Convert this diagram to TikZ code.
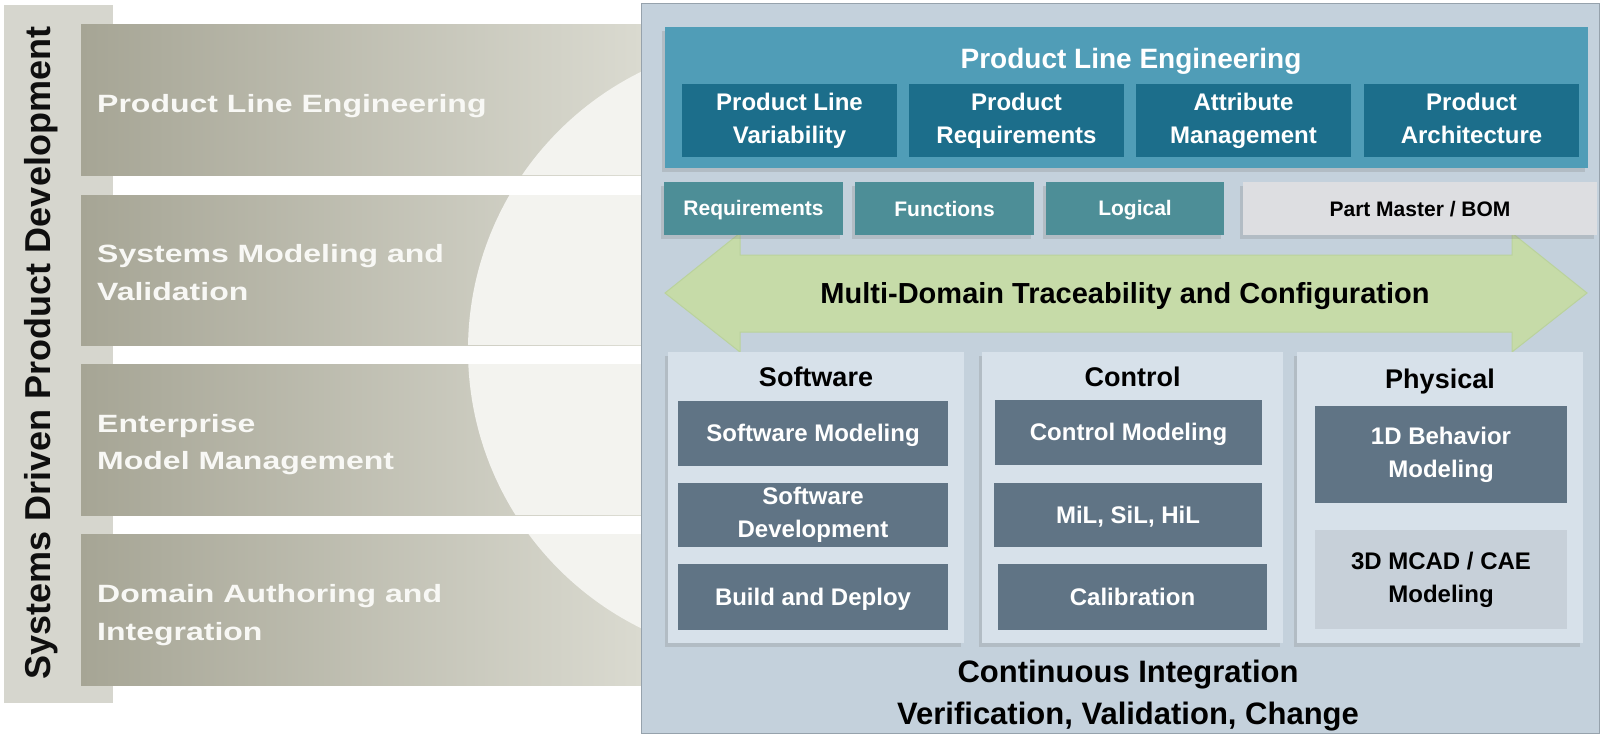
\documentclass[tikz,border=0pt]{standalone}
\usepackage{fontspec}
\setmainfont{Liberation Sans}
\usepackage{tikz}
\usetikzlibrary{shadows}

\definecolor{stripgray}{RGB}{214,214,206}
\definecolor{bandleft}{RGB}{166,165,149}
\definecolor{bandright}{RGB}{218,218,208}
\definecolor{circlefill}{RGB}{243,243,239}
\definecolor{panelfill}{RGB}{196,209,220}
\definecolor{panelline}{RGB}{150,162,172}
\definecolor{plefill}{RGB}{80,157,183}
\definecolor{pledark}{RGB}{28,110,139}
\definecolor{tealbox}{RGB}{77,142,151}
\definecolor{partfill}{RGB}{221,222,225}
\definecolor{arrowfill}{RGB}{198,219,168}
\definecolor{arrowline}{RGB}{186,210,156}
\definecolor{domainfill}{RGB}{215,225,234}
\definecolor{slatebox}{RGB}{96,116,133}
\definecolor{cadfill}{RGB}{199,208,217}

\newcommand\capstrut{\rule[-0.2em]{0pt}{1.116em}}
\newcommand\bandlines[1]{\scalebox{1.28}[1]{\begin{tabular}{@{}l@{}}#1\end{tabular}}}

\tikzset{
  boxshadow/.style={drop shadow={shadow xshift=-3pt,shadow yshift=-4pt,opacity=0.25}},
  centred/.style={execute at begin node=\capstrut, execute at end node=\capstrut},
  bandtext/.style={anchor=west, inner sep=0pt, text={rgb,255:red,248;green,248;blue,245},
    font=\bfseries\fontsize{25}{37.5}\selectfont},
  plesub/.style={fill=pledark, text=white, minimum width=215pt, minimum height=73pt, align=center,
    inner sep=0pt, centred, font=\bfseries\fontsize{24}{33}\selectfont},
  rowbox/.style={fill=tealbox, text=white, minimum height=53pt, inner sep=0pt, boxshadow, centred,
    font=\bfseries\fontsize{21}{25}\selectfont},
  domainbox/.style={fill=domainfill, minimum height=291pt, inner sep=0pt, boxshadow},
  domaintitle/.style={anchor=base, inner sep=0pt, font=\bfseries\fontsize{27}{32}\selectfont},
  slate/.style={fill=slatebox, text=white, align=center, inner sep=0pt, centred,
    font=\bfseries\fontsize{24}{33}\selectfont}
}

\begin{document}
\begin{tikzpicture}[x=1pt,y=1pt,yscale=-1,xscale=1]
\useasboundingbox (0,0) rectangle (1600,734);

%Shape: Rectangle [left strip]
\fill[stripgray] (4,5) rectangle (113,703);
%Shapes: Bands
\foreach \ya/\yb in {24/175,195/345,364/515,534/685}
  \fill[left color=bandleft, right color=bandright] (81,\ya) rectangle (641,\yb);
%Shape: Circle
\begin{scope}
  \clip (81,24) rectangle (641,175) (81,195) rectangle (641,345)
        (81,364) rectangle (641,515) (81,534) rectangle (641,685);
  \fill[circlefill] (778,350) circle (310);
\end{scope}

% Text Node
\node[rotate=90, anchor=base, inner sep=0pt, font=\bfseries\fontsize{36}{40}\selectfont, text={rgb,255:red,15;green,15;blue,15}]
  (sdpd) at (50,353) {Systems Driven Product Development};
% Text Node
\node[bandtext] (bple) at (97,104.5) {\bandlines{Product Line Engineering}};
\node[bandtext] (bsmv) at (97,274) {\bandlines{Systems Modeling and\\Validation}};
\node[bandtext] (bemm) at (97,443.5) {\bandlines{Enterprise\\Model Management}};
\node[bandtext] (bdai) at (97,614) {\bandlines{Domain Authoring and\\Integration}};

%Shape: Rectangle [right panel]
\draw[panelline, fill=panelfill] (641,3) rectangle (1599.5,733.5);

%Shape: Double Arrow
\filldraw[draw=arrowline, fill=arrowfill, line width=1pt]
  (665,293) -- (740,233) -- (740,255) -- (1512,255) -- (1512,233) -- (1587,293)
  -- (1512,352) -- (1512,332) -- (740,332) -- (740,352) -- cycle;
% Text Node
\node[anchor=base, inner sep=0pt, font=\bfseries\fontsize{29}{34}\selectfont]
  (mdt) at (1125,303) {Multi-Domain Traceability and Configuration};

%Shape: Rectangle [product line engineering]
\node[fill=plefill, minimum width=923pt, minimum height=141pt, inner sep=0pt, boxshadow] (ple) at (1126.5,97.5) {};
\node[anchor=base, inner sep=0pt, text=white, font=\bfseries\fontsize{28}{33}\selectfont]
  (pletitle) at (1131,68) {Product Line Engineering};
\node[plesub] (plv) at (789.5,120.5) {Product Line\\Variability};
\node[plesub] (preq) at (1016.5,120.5) {Product\\Requirements};
\node[plesub] (attm) at (1243.5,120.5) {Attribute\\Management};
\node[plesub] (parch) at (1471.5,120.5) {Product\\Architecture};

%Shapes: Row of views
\node[rowbox, minimum width=179pt] (req) at (753.5,208.5) {Requirements};
\node[rowbox, minimum width=179pt] (fun) at (944.5,208.5) {Functions};
\node[rowbox, minimum width=178pt] (log) at (1135,208.5) {Logical};
\node[rowbox, minimum width=354pt, fill=partfill, text=black] (bom) at (1420,208.5) {Part Master / BOM};

%Shapes: Domains
\node[domainbox, minimum width=296pt] (sw) at (816,497.5) {};
\node[domainbox, minimum width=301pt] (ctl) at (1132.5,497.5) {};
\node[domainbox, minimum width=286pt] (phy) at (1440,497.5) {};
% Text Node
\node[domaintitle] (swtitle) at (816,386) {Software};
\node[domaintitle] (ctltitle) at (1132.5,386) {Control};
\node[domaintitle] (phytitle) at (1440,388) {Physical};

\node[slate, minimum width=270pt, minimum height=65pt] (swmod) at (813,433.5) {Software Modeling};
\node[slate, minimum width=270pt, minimum height=64pt] (swdev) at (813,515) {Software\\Development};
\node[slate, minimum width=270pt, minimum height=66pt] (build) at (813,597) {Build and Deploy};

\node[slate, minimum width=267pt, minimum height=65pt] (ctlmod) at (1128.5,432.5) {Control Modeling};
\node[slate, minimum width=268pt, minimum height=64pt] (xil) at (1128,515) {MiL, SiL, HiL};
\node[slate, minimum width=269pt, minimum height=66pt] (calib) at (1132.5,597) {Calibration};

\node[slate, minimum width=252pt, minimum height=97pt] (bhv) at (1441,454.5) {1D Behavior\\Modeling};
\node[slate, minimum width=252pt, minimum height=99pt, fill=cadfill, text=black] (cad) at (1441,579.5) {3D MCAD / CAE\\Modeling};

% Text Node
\node[align=center, inner sep=0pt, font=\bfseries\fontsize{31}{42}\selectfont]
  (civvc) at (1128,696) {Continuous Integration\\Verification, Validation, Change};

\end{tikzpicture}
\end{document}
